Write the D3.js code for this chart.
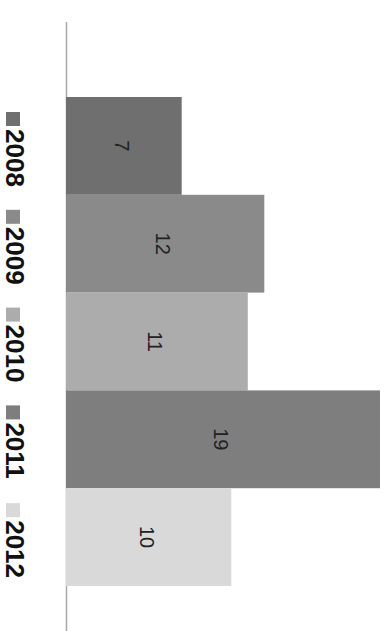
<!DOCTYPE html>
<html><head><meta charset="utf-8">
<script src="https://cdn.jsdelivr.net/npm/d3@7"></script>
<style>html,body{margin:0;padding:0;background:#fff;}svg{display:block;}</style>
</head><body>
<script>
const years = ["2008","2009","2010","2011","2012"];
const values = [7, 12, 11, 19, 10];
const colors = ["#6f6f6f","#8a8a8a","#acacac","#7e7e7e","#d9d9d9"];

const W = 386, H = 631;
const svg = d3.select("body").append("svg").attr("width", W).attr("height", H);

const x = d3.scaleLinear().domain([0, 19]).range([66, 380]);
const y = d3.scaleBand().domain(years).range([97, 586]).padding(0);
const color = d3.scaleOrdinal().domain(years).range(colors);

// baseline axis
svg.append("line").attr("x1", 66.5).attr("x2", 66.5).attr("y1", 22).attr("y2", 631)
  .attr("stroke", "#a8a8a8").attr("stroke-width", 1.5);

// bars
svg.selectAll("rect.bar").data(years).join("rect").attr("class","bar")
  .attr("x", x(0)).attr("y", d => y(d))
  .attr("width", (d,i) => x(values[i]) - x(0))
  .attr("height", y.bandwidth())
  .attr("fill", d => color(d));

// value labels (rotated)
svg.selectAll("text.val").data(years).join("text").attr("class","val")
  .attr("transform", (d,i) => `translate(${(x(0)+x(values[i]))/2 - 2},${y(d)+y.bandwidth()/2}) rotate(90)`)
  .attr("text-anchor","middle").attr("dominant-baseline","central")
  .attr("font-family","'Liberation Sans', Arial, sans-serif").attr("font-size", 20)
  .attr("fill","#222")
  .text((d,i) => values[i]);

// legend
const lg = svg.selectAll("g.lg").data(years).join("g").attr("class","lg")
  .attr("transform", d => `translate(0,${y(d)})`);
lg.append("rect").attr("x", 6).attr("y", 15).attr("width", 14).attr("height", 14)
  .attr("fill", d => color(d));
lg.append("text")
  .attr("transform", "translate(15,32) rotate(90)")
  .attr("text-anchor","start").attr("dominant-baseline","central")
  .attr("font-family","'Liberation Sans', Arial, sans-serif").attr("font-size", 26)
  .attr("font-weight","bold").attr("fill","#111")
  .text(d => d);
</script>
</body></html>
